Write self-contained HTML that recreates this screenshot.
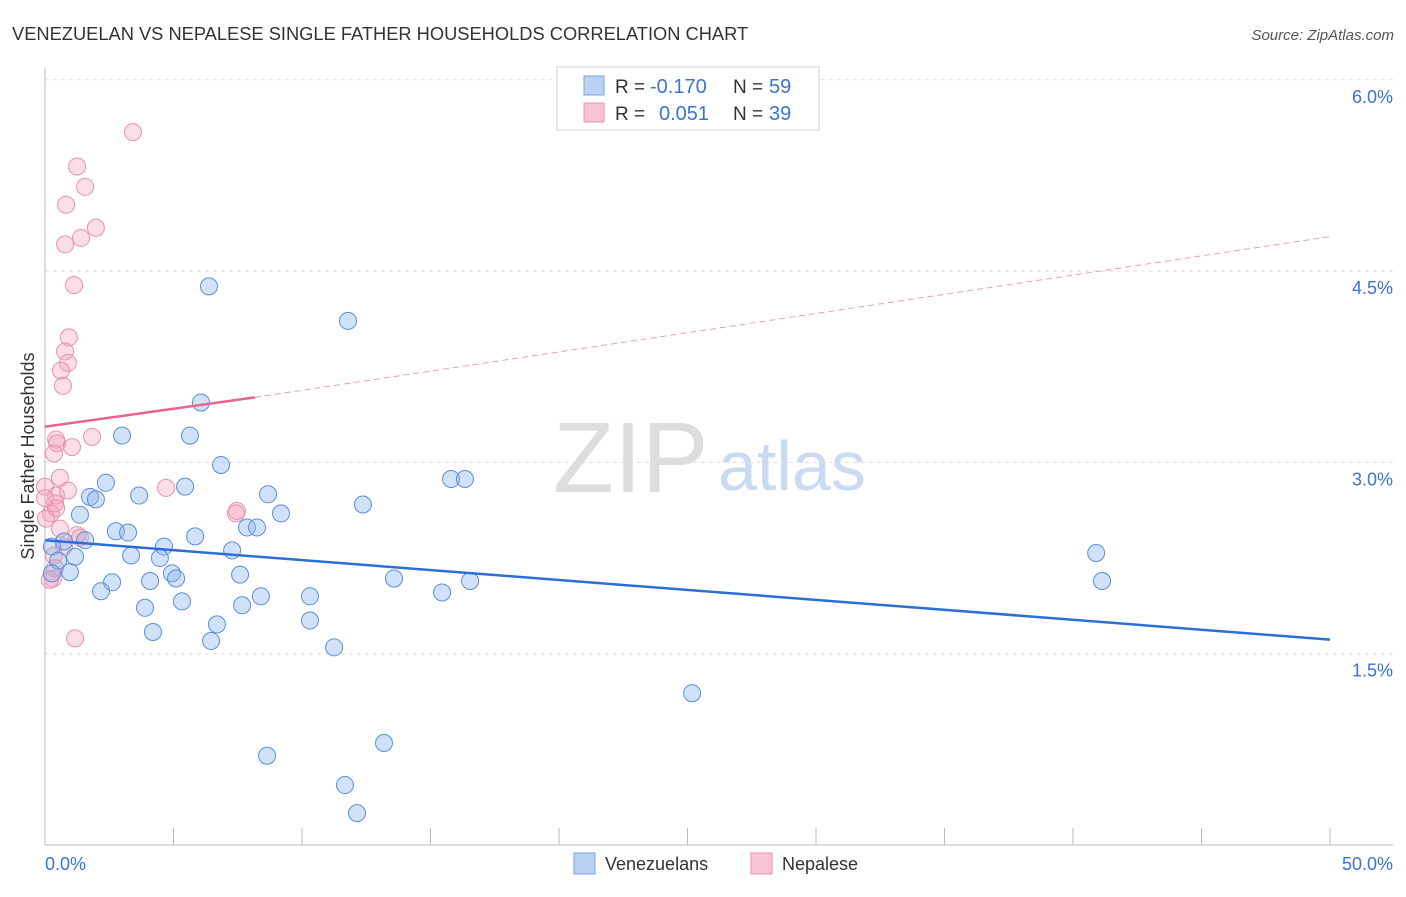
<!DOCTYPE html>
<html><head><meta charset="utf-8"><style>
body{margin:0;background:#fff;font-family:"Liberation Sans",sans-serif}
svg text{font-family:"Liberation Sans",sans-serif}
</style></head><body>
<svg id="c" width="1406" height="892">
<text x="12" y="40" font-size="18.3" fill="#333">VENEZUELAN VS NEPALESE SINGLE FATHER HOUSEHOLDS CORRELATION CHART</text>
<text x="1394" y="40" font-size="15" fill="#555" text-anchor="end" font-style="italic">Source: ZipAtlas.com</text>
<text x="553" y="492" font-size="100" fill="#ddd" font-family="Liberation Serif">ZIP</text>
<text x="718" y="490" font-size="70" fill="#c9daf2">atlas</text>
<g id="grid"></g><g id="pts"></g><g id="lines"></g>
<text x="34" y="456" font-size="18" fill="#333" text-anchor="middle" transform="rotate(-90 34 456)">Single Father Households</text>
<text x="45" y="870" font-size="18" fill="#3b73d1">0.0%</text>
<text x="1393" y="870" font-size="18" fill="#3b73d1" text-anchor="end">50.0%</text>
<g>
<rect x="557" y="67" width="262" height="63" fill="#fff" stroke="#ccc"/>
<rect x="584" y="76" width="20" height="19" fill="#b9d2f3" stroke="#7aa3e0"/>
<rect x="584" y="103" width="20" height="19" fill="#f8c4d3" stroke="#eb91ab"/>
<text x="615" y="93" font-size="19" fill="#333">R =</text>
<text x="650" y="93" font-size="20" fill="#3b73d1">-0.170</text>
<text x="733" y="93" font-size="19" fill="#333">N =</text>
<text x="769" y="93" font-size="20" fill="#3b73d1">59</text>
<text x="615" y="120" font-size="19" fill="#333">R =</text>
<text x="659" y="120" font-size="20" fill="#3b73d1">0.051</text>
<text x="733" y="120" font-size="19" fill="#333">N =</text>
<text x="769" y="120" font-size="20" fill="#3b73d1">39</text>
</g>
<g>
<rect x="574" y="853" width="21" height="21" fill="#b9d2f3" stroke="#7aa3e0"/>
<text x="605" y="870" font-size="18" fill="#333">Venezuelans</text>
<rect x="751" y="853" width="21" height="21" fill="#f8c4d3" stroke="#eb91ab"/>
<text x="782" y="870" font-size="18" fill="#333">Nepalese</text>
</g>
</svg>
<script>
const yTicks=[1.5,3.0,4.5,6.0];
const xTicks=[0,5,10,15,20,25,30,35,40,45,50];
const venX=[6.38,11.79,6.07,3.0,5.64,6.85,2.37,5.45,1.75,1.98,3.66,8.68,12.37,1.36,9.18,2.76,3.23,7.86,8.25,5.84,1.56,0.74,0.27,4.63,7.28,3.35,1.17,4.47,0.51,4.94,7.59,0.27,0.97,2.61,4.09,5.10,13.58,16.54,2.18,8.40,10.31,15.45,5.33,7.67,3.89,10.31,6.69,4.20,6.46,11.25,15.80,16.34,40.9,41.13,25.18,8.64,13.19,11.67,12.14];
const venY=[4.38,4.11,3.47,3.21,3.21,2.98,2.84,2.81,2.73,2.71,2.74,2.75,2.67,2.59,2.60,2.46,2.45,2.49,2.49,2.42,2.39,2.38,2.34,2.34,2.31,2.27,2.26,2.25,2.23,2.13,2.12,2.13,2.14,2.06,2.07,2.09,2.09,2.07,1.99,1.95,1.95,1.98,1.91,1.88,1.86,1.76,1.73,1.67,1.60,1.55,2.87,2.87,2.29,2.07,1.19,0.70,0.80,0.47,0.25];
const nepX=[3.42,1.25,1.56,0.82,1.98,1.40,0.78,1.13,0.93,0.78,0.89,0.62,0.70,1.83,0.43,0.47,1.05,0.35,0.58,0,0.43,0.39,0.89,4.71,7.47,7.43,0.23,0.43,0.04,0.58,1.25,1.36,0.74,0.35,0.39,0.31,1.17,0,0.19];
const nepY=[5.59,5.32,5.16,5.02,4.84,4.76,4.71,4.39,3.98,3.87,3.78,3.72,3.60,3.20,3.18,3.15,3.12,3.07,2.88,2.81,2.74,2.68,2.78,2.80,2.62,2.60,2.60,2.64,2.56,2.48,2.43,2.41,2.34,2.27,2.17,2.09,1.62,2.72,2.08];
const venTrend=[[0,2.39],[50,1.61]];
const nepTrend=[[0,3.28],[8.17,3.51],[50,4.77]];
const X=v=>45+v/50*1285, Y=v=>845-v/1.5*191.3;
const NS='http://www.w3.org/2000/svg';
function mk(t,a,p){const e=document.createElementNS(NS,t);for(const k in a)e.setAttribute(k,a[k]);p.appendChild(e);return e;}
const g=document.getElementById('grid');
const ax=mk('line',{x1:45,y1:68,x2:45,y2:845,stroke:'#bbb'},g);


const bx=mk('line',{x1:45,y1:845,x2:1393,y2:845,stroke:'#bbb'},g);


yTicks.forEach(t=>{const l=mk('line',{x1:45,x2:1393,y1:Y(t),y2:Y(t),stroke:'#ddd','stroke-dasharray':'4,4'},g);


const tx=mk('text',{x:1393,y:Y(t)+23,'font-size':18,fill:'#3b73d1','text-anchor':'end'},g);tx.textContent=t.toFixed(1)+'%';

});
xTicks.forEach(t=>{const l=mk('line',{x1:X(t),x2:X(t),y1:828,y2:845,stroke:'#bbb'},g);

});
const p=document.getElementById('pts');
nepX.forEach((v,i)=>{const c=mk('circle',{cx:X(v),cy:Y(nepY[i]),r:8.5,fill:'rgba(244,160,185,0.35)',stroke:'#eb91ab','stroke-width':1},p);

});
venX.forEach((v,i)=>{const c=mk('circle',{cx:X(v),cy:Y(venY[i]),r:8.5,fill:'rgba(140,180,235,0.4)',stroke:'#5a8fdc','stroke-width':1},p);

});
const L=document.getElementById('lines');
const vl=mk('line',{x1:X(venTrend[0][0]),y1:Y(venTrend[0][1]),x2:X(venTrend[1][0]),y2:Y(venTrend[1][1]),stroke:'#2a6fd6','stroke-width':2.5},L);


const pl=mk('line',{x1:X(nepTrend[0][0]),y1:Y(nepTrend[0][1]),x2:X(nepTrend[1][0]),y2:Y(nepTrend[1][1]),stroke:'#e8638e','stroke-width':2.5},L);


const pd=mk('line',{x1:X(nepTrend[1][0]),y1:Y(nepTrend[1][1]),x2:X(nepTrend[2][0]),y2:Y(nepTrend[2][1]),stroke:'#e8a0b6','stroke-width':1,'stroke-dasharray':'6,4'},L);


</script>
</body></html>
